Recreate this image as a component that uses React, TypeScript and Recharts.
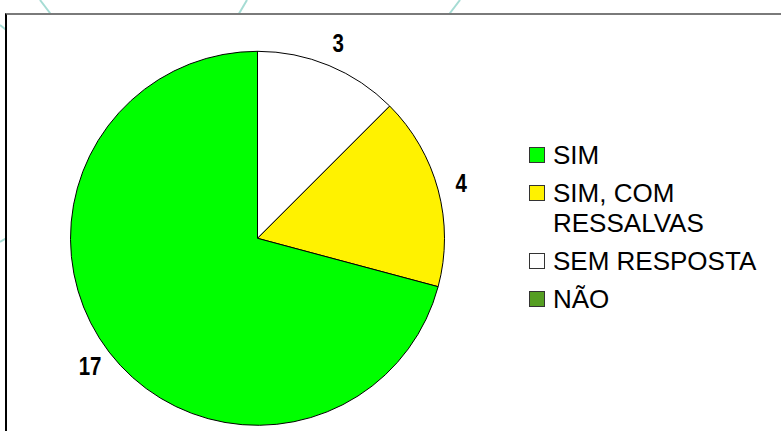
import { PieChart, Pie, Cell, Legend } from "recharts";

const categorias = ["SIM", "SIM, COM RESSALVAS", "SEM RESPOSTA", "NÃO"];
const respostas = [17, 4, 3, 0];
const cores = ["#00FF00", "#FFF200", "#FFFFFF", "#559E22"];
// ordem das fatias no sentido horário a partir do topo
const ordemFatias = ["SEM RESPOSTA", "SIM, COM RESSALVAS", "SIM", "NÃO"];

const dados = ordemFatias.map((nome) => {
  const i = categorias.indexOf(nome);
  return { nome, valor: respostas[i], cor: cores[i] };
});

const RAD = Math.PI / 180;

function Rotulo(props: any) {
  const { cx, cy, midAngle, outerRadius, value } = props;
  if (!value) return null;
  const r = outerRadius + 24;
  const x = cx + r * Math.cos(-midAngle * RAD);
  const y = cy + r * Math.sin(-midAngle * RAD);
  return (
    <text
      x={0}
      y={0}
      transform={`translate(${x},${y}) scale(0.82,1)`}
      textAnchor="middle"
      dominantBaseline="central"
      fill="#000"
      fontSize={25}
      fontWeight="bold"
      fontFamily="'Liberation Sans', Arial, sans-serif"
    >
      {value}
    </text>
  );
}

function Legenda() {
  return (
    <div style={{ fontFamily: "'Liberation Sans', Arial, sans-serif", fontSize: 26, lineHeight: "30px", color: "#000", width: 232 }}>
      {categorias.map((c, i) => (
        <div key={c} style={{ display: "flex", alignItems: "flex-start", marginBottom: 8 }}>
          <span
            style={{
              display: "inline-block",
              flex: "none",
              width: 14,
              height: 14,
              marginTop: 7,
              marginRight: 8,
              background: cores[i],
              border: "1px solid #333",
            }}
          />
          <span style={{ maxWidth: 226 }}>{c}</span>
        </div>
      ))}
    </div>
  );
}

export default function App() {
  return (
    <div style={{ position: "absolute", left: 0, top: 0, width: 781, height: 431, background: "#fff", overflow: "hidden" }}>
      <svg width={781} height={431} style={{ position: "absolute", left: 0, top: 0 }}>
        <g stroke="#A6DCD4" strokeWidth={2}>
          <line x1={40} y1={0} x2={53} y2={17} />
          <line x1={0} y1={25} x2={10} y2={33} />
          <line x1={247} y1={0} x2={237} y2={17} />
          <line x1={460} y1={0} x2={447} y2={17} />
          <line x1={0} y1={242} x2={10} y2={236} />
        </g>
      </svg>
      <div
        style={{
          position: "absolute",
          left: 5,
          top: 13,
          width: 790,
          height: 430,
          background: "#fff",
          borderTop: "2px solid #7A7A7A",
          borderLeft: "2px solid #000",
        }}
      />
      <div style={{ position: "absolute", left: 0, top: 0 }}>
        <PieChart width={781} height={431} margin={{ top: 0, right: 0, bottom: 0, left: 0 }}>
          <Pie
            data={dados}
            dataKey="valor"
            nameKey="nome"
            cx={257.5}
            cy={238.3}
            outerRadius={187}
            startAngle={90}
            endAngle={-270}
            stroke="#000"
            strokeWidth={1}
            label={Rotulo}
            labelLine={false}
            isAnimationActive={false}
          >
            {dados.map((d) => (
              <Cell key={d.nome} fill={d.cor} />
            ))}
          </Pie>
          <Legend
            layout="vertical"
            content={() => <Legenda />}
            wrapperStyle={{ position: "absolute", left: 529, top: 140, width: 240 }}
          />
        </PieChart>
      </div>
    </div>
  );
}
